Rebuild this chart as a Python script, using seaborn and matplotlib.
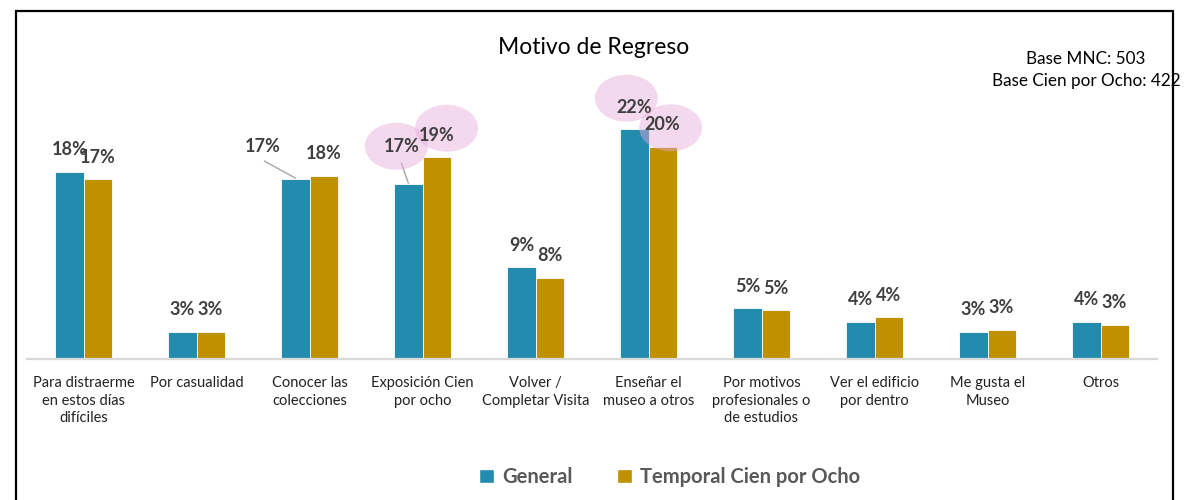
import matplotlib
matplotlib.use("Agg")
import matplotlib.pyplot as plt
from matplotlib.patches import Ellipse, Rectangle
from matplotlib.lines import Line2D
import seaborn as sns
import pandas as pd

# ---------------- data ----------------
categories = [
    "Para distraerme\nen estos días\ndifíciles",
    "Por casualidad",
    "Conocer las\ncolecciones",
    "Exposición Cien\npor ocho",
    "Volver /\nCompletar Visita",
    "Enseñar el\nmuseo a otros",
    "Por motivos\nprofesionales o\nde estudios",
    "Ver el edificio\npor dentro",
    "Me gusta el\nMuseo",
    "Otros",
]
general = [18.0, 2.6, 17.3, 16.8, 8.8, 22.1, 4.9, 3.6, 2.6, 3.6]
temporal = [17.3, 2.6, 17.6, 19.4, 7.8, 20.4, 4.7, 4.0, 2.8, 3.3]
series_names = ["General", "Temporal Cien por Ocho"]
title = "Motivo de Regreso"
base_text = "Base MNC: 503\nBase Cien por Ocho: 422"

colors = {"General": "#238BAD", "Temporal Cien por Ocho": "#BF9000"}

df = pd.DataFrame({
    "cat": categories * 2,
    "val": general + temporal,
    "serie": [series_names[0]] * len(categories) + [series_names[1]] * len(categories),
})

# ---------------- figure ----------------
W, H, DPI = 1191, 500, 100
sns.set_theme(style="white")
plt.rcParams["font.family"] = ["Lato", "DejaVu Sans"]

fig = plt.figure(figsize=(W / DPI, H / DPI), dpi=DPI)
ax_l, ax_r, ax_base, ax_top = 27, 1157, 359, 60
ax = fig.add_axes([ax_l / W, (H - ax_base) / H, (ax_r - ax_l) / W, (ax_base - ax_top) / H])
YMAX = 28.75

sns.barplot(data=df, x="cat", y="val", hue="serie", palette=colors, width=0.5,
            gap=0, dodge=True, ax=ax, legend=False, edgecolor="white", linewidth=0.6,
            saturation=1)

ax.set_ylim(0, YMAX)
ax.set_xlim(-0.5, len(categories) - 0.5)
for s in ["top", "right", "left"]:
    ax.spines[s].set_visible(False)
ax.spines["bottom"].set_color("#D9D9D9")
ax.spines["bottom"].set_linewidth(1.6)
ax.set_yticks([])
ax.set_xlabel("")
ax.set_ylabel("")
ax.tick_params(axis="x", length=0, pad=12)
ax.set_xticks(range(len(categories)))
ax.set_xticklabels(categories, fontsize=10.5, color="#222222", linespacing=1.35)

px_x = (ax_r - ax_l) / len(categories)   # pixels per x unit
px_y = (ax_base - ax_top) / YMAX         # pixels per y unit
PT = 72 / DPI

# label offsets (px) for special cases: (series, cat) -> (dx, dy)
special_offsets = {(0, 2): (-33, 33), (0, 3): (-7, 38)}
leaders = {(0, 2): ((-31, 18), (0, 1)), (0, 3): ((-7, 21), (0, 1))}
ellipses = {(0, 3): (-12, 38), (1, 3): (10, 29), (0, 5): (-8, 31), (1, 5): (8, 19)}

for si, cont in enumerate(ax.containers):
    for ci, bar in enumerate(cont):
        x = bar.get_x() + bar.get_width() / 2
        h = bar.get_height()
        dx, dy = special_offsets.get((si, ci), (0, 22))
        if (si, ci) in ellipses:
            ex, ey = ellipses[(si, ci)]
            e = Ellipse((x + ex / px_x, h + ey / px_y), 63 / px_x, 47 / px_y,
                        facecolor="#E6A9DA", alpha=0.45, edgecolor="none",
                        zorder=5, clip_on=False)
            ax.add_patch(e)
        if (si, ci) in leaders:
            (x0, y0), (x1, y1) = leaders[(si, ci)]
            ax.add_line(Line2D([x + x0 / px_x, x + x1 / px_x], [h + y0 / px_y, h + y1 / px_y],
                               color="#A6A6A6", lw=1.0, zorder=4, clip_on=False))
        ax.annotate(f"{round(h):d}%", (x, h), xytext=(dx * PT, dy * PT),
                    textcoords="offset points", ha="center", va="center",
                    fontsize=13, fontweight="bold", color="#3F3F3F",
                    zorder=6, annotation_clip=False)

# title and base text
fig.text(594 / W, 1 - 47 / H, title, ha="center", va="center", fontsize=16.5, color="#000000")
fig.text(1086 / W, 1 - 70 / H, base_text, ha="center", va="center", fontsize=12.3,
         color="#000000", linespacing=1.5)

# legend
handles = [Rectangle((0, 0), 1, 1, facecolor=colors[n]) for n in series_names]
leg = fig.legend(handles, series_names, loc="center", bbox_to_anchor=(670 / W, 1 - 477 / H),
                 ncol=2, frameon=False, handlelength=0.75, handleheight=0.75,
                 handletextpad=0.4, columnspacing=2.2,
                 prop={"family": ["Lato", "DejaVu Sans"], "weight": "bold", "size": 14.5})
for t in leg.get_texts():
    t.set_color("#595959")

# outer frame
fig.add_artist(Rectangle((16 / W, -0.05), (1173 - 16) / W, 1 - 11 / H + 0.05,
                         transform=fig.transFigure, fill=False, edgecolor="#000000",
                         linewidth=1.6, zorder=0))

fig.savefig("out.png", dpi=DPI, facecolor="white")
